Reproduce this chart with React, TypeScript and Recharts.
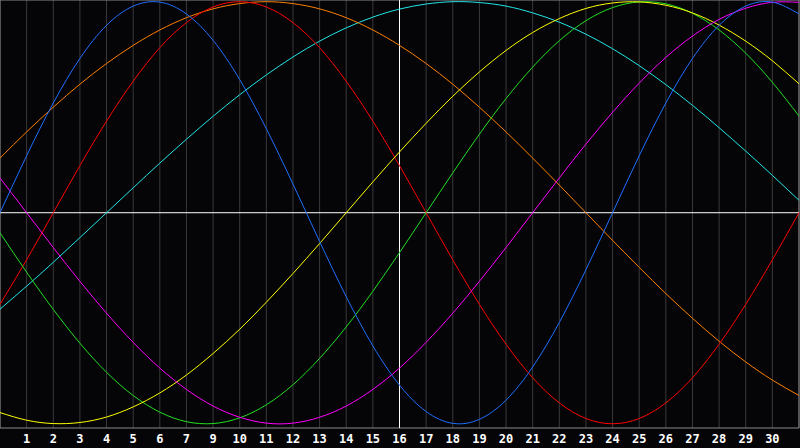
import {
  CartesianGrid,
  Line,
  LineChart,
  ReferenceArea,
  ReferenceLine,
  XAxis,
  YAxis,
} from "recharts";

// day offsets across the 30-day window (x = 0 .. 30)
const days = [
  0, 1, 2, 3, 4, 5, 6, 7, 8, 9, 10, 11, 12, 13, 14, 15, 16, 17, 18, 19, 20, 21,
  22, 23, 24, 25, 26, 27, 28, 29, 30,
];

// labels printed under gridlines 1..29 (the 8th is skipped in the source)
const dateLabels = [
  1, 2, 3, 4, 5, 6, 7, 9, 10, 11, 12, 13, 14, 15, 16, 17, 18, 19, 20, 21, 22,
  23, 24, 25, 26, 27, 28, 29, 30,
];

const physical = [
  0, 0.27, 0.52, 0.731, 0.888, 0.979, 0.998, 0.942, 0.817, 0.631, 0.398, 0.136,
  -0.136, -0.398, -0.631, -0.817, -0.942, -0.998, -0.979, -0.888, -0.731, -0.52,
  -0.27, 0, 0.27, 0.52, 0.731, 0.888, 0.979, 0.998, 0.942,
];

const emotional = [
  -0.434, -0.223, 0, 0.223, 0.434, 0.623, 0.782, 0.901, 0.975, 1, 0.975, 0.901,
  0.782, 0.623, 0.434, 0.223, 0, -0.223, -0.434, -0.623, -0.782, -0.901, -0.975,
  -1, -0.975, -0.901, -0.782, -0.623, -0.434, -0.223, 0,
];

const intellectual = [
  -0.095, -0.282, -0.458, -0.618, -0.756, -0.866, -0.945, -0.99, -0.999, -0.972,
  -0.91, -0.815, -0.69, -0.541, -0.372, -0.189, 0, 0.189, 0.372, 0.541, 0.69,
  0.815, 0.91, 0.972, 0.999, 0.99, 0.945, 0.866, 0.756, 0.618, 0.458,
];

const intuitive = [
  0.165, 0, -0.165, -0.325, -0.476, -0.614, -0.736, -0.837, -0.916, -0.969,
  -0.997, -0.997, -0.969, -0.916, -0.837, -0.736, -0.614, -0.476, -0.325,
  -0.165, 0, 0.165, 0.325, 0.476, 0.614, 0.736, 0.837, 0.916, 0.969, 0.997,
  0.997,
];

const aesthetic = [
  -0.947, -0.983, -0.999, -0.994, -0.968, -0.92, -0.854, -0.769, -0.667, -0.552,
  -0.424, -0.288, -0.146, 0, 0.146, 0.288, 0.424, 0.552, 0.667, 0.769, 0.854,
  0.92, 0.968, 0.994, 0.999, 0.983, 0.947, 0.889, 0.813, 0.72, 0.611,
];

const awareness = [
  0.259, 0.383, 0.5, 0.609, 0.707, 0.793, 0.866, 0.924, 0.966, 0.991, 1, 0.991,
  0.966, 0.924, 0.866, 0.793, 0.707, 0.609, 0.5, 0.383, 0.259, 0.131, 0, -0.131,
  -0.259, -0.383, -0.5, -0.609, -0.707, -0.793, -0.866,
];

const spiritual = [
  -0.457, -0.348, -0.235, -0.118, 0, 0.118, 0.235, 0.348, 0.457, 0.559, 0.653,
  0.738, 0.813, 0.876, 0.927, 0.965, 0.989, 1, 0.996, 0.979, 0.947, 0.903,
  0.846, 0.777, 0.697, 0.607, 0.509, 0.403, 0.292, 0.177, 0.059,
];

const data = days.map((day, i) => ({
  day,
  physical: physical[i],
  emotional: emotional[i],
  intellectual: intellectual[i],
  intuitive: intuitive[i],
  aesthetic: aesthetic[i],
  awareness: awareness[i],
  spiritual: spiritual[i],
}));

const gridTicks = dateLabels.map((_, i) => i + 1);

const series = [
  { key: "spiritual", color: "#22e6e6" },
  { key: "awareness", color: "#ff8000" },
  { key: "emotional", color: "#ff0000" },
  { key: "intellectual", color: "#22e022" },
  { key: "aesthetic", color: "#ffff00" },
  { key: "intuitive", color: "#ff00ff" },
  { key: "physical", color: "#1f6fff" },
];

export default function App() {
  return (
    <div style={{ width: 800, height: 448, background: "#050508" }}>
      <style>{`body{margin:0;background:#050508;}`}</style>
      <LineChart
        width={800}
        height={448}
        data={data}
        margin={{ top: 0, right: 1, left: 0, bottom: 0 }}
      >
        <CartesianGrid horizontal={false} stroke="#3a3a3a" />
        <XAxis
          dataKey="day"
          type="number"
          domain={[0, 30]}
          ticks={gridTicks}
          interval={0}
          height={20}
          axisLine={false}
          tickLine={false}
          tickMargin={0}
          tick={{
            fill: "#ffffff",
            fontSize: 12,
            fontWeight: 700,
            fontFamily: "DejaVu Sans Mono",
          }}
          tickFormatter={(v) => String(dateLabels[v - 1])}
        />
        <YAxis hide type="number" domain={[-1.02, 1.008]} allowDataOverflow />
        <ReferenceArea
          x1={0}
          x2={30}
          y1={-1.02}
          y2={1.008}
          fill="none"
          stroke="#8a8a8a"
          strokeWidth={1}
        />
        <ReferenceLine x={15} stroke="#ffffff" strokeWidth={1} />
        <ReferenceLine y={0} stroke="#ffffff" strokeWidth={1} />
        {series.map((s) => (
          <Line
            key={s.key}
            dataKey={s.key}
            type="natural"
            stroke={s.color}
            strokeWidth={1}
            dot={false}
            activeDot={false}
            isAnimationActive={false}
          />
        ))}
      </LineChart>
    </div>
  );
}
